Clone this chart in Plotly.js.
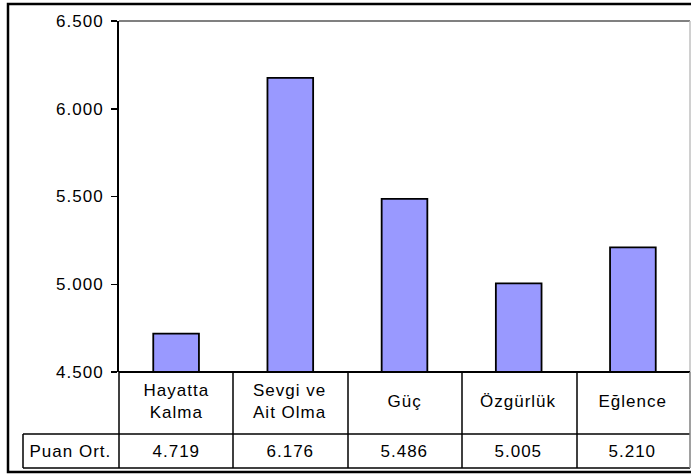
<!DOCTYPE html>
<html>
<head>
<meta charset="utf-8">
<script src="https://cdn.plot.ly/plotly-3.0.1.min.js"></script>
<style>
html,body{margin:0;padding:0;background:#fff;}
#chart{width:691px;height:474px;}
#chart svg text{letter-spacing:1px;}
</style>
</head>
<body>
<div id="chart"></div>
<script>
var categories = ['Hayatta<br>Kalma', 'Sevgi ve<br>Ait Olma', 'Güç', 'Özgürlük', 'Eğlence'];
var categoryKeys = ['Hayatta Kalma', 'Sevgi ve Ait Olma', 'Güç', 'Özgürlük', 'Eğlence'];
var values = [4719, 6176, 5486, 5005, 5210];
var seriesName = 'Puan Ort.';
var tickValues = [4500, 5000, 5500, 6000, 6500];
var tickLabels = ['4.500', '5.000', '5.500', '6.000', '6.500'];

function fmt(v) {
  var s = String(Math.round(v));
  return s.replace(/\B(?=(\d{3})+(?!\d))/g, '.');
}

// pixel -> paper helpers (plot area: x 119..690, y 21..372)
var L = 119, R = 690, T = 21, B = 372;
function px(x) { return (x - L) / (R - L); }
function py(y) { return (B - y) / (B - T); }

var shapes = [];
function line(x0, y0, x1, y1, color, w) {
  shapes.push({type: 'line', xref: 'paper', yref: 'paper', x0: px(x0), y0: py(y0), x1: px(x1), y1: py(y1),
    line: {color: color, width: w}});
}
// plot area border (top gray, right light gray)
line(L, T, R, T, '#808080', 2);
line(R, T, R, B, '#c0c0c0', 1.5);
// table
var colEdges = [119, 233, 348, 462, 577];
line(L, B, R, B, '#000', 2);
line(23, 434, R, 434, '#000', 1.5);
line(23, 468, R, 468, '#000', 1.5);
line(23, 434, 23, 468, '#000', 1.5);
for (var i = 0; i < colEdges.length; i++) line(colEdges[i], B, colEdges[i], 468, '#000', 1.5);
line(R, B, R, 468, '#808080', 1.5);
// outer border
shapes.push({type: 'rect', xref: 'paper', yref: 'paper', x0: px(8), y0: py(472), x1: px(705), y1: py(4),
  line: {color: '#000', width: 2.5}});

var annotations = [];
var font = {family: 'Liberation Sans, Arial, sans-serif', size: 17, color: '#000'};
for (var j = 0; j < categories.length; j++) {
  annotations.push({xref: 'x', yref: 'paper', x: categoryKeys[j], y: py(401), text: categories[j],
    showarrow: false, font: font, xanchor: 'center', yanchor: 'middle'});
  annotations.push({xref: 'x', yref: 'paper', x: categoryKeys[j], y: py(451), text: fmt(values[j]),
    showarrow: false, font: font, xanchor: 'center', yanchor: 'middle'});
}
annotations.push({xref: 'paper', yref: 'paper', x: px(70), y: py(451), text: seriesName,
  showarrow: false, font: font, xanchor: 'center', yanchor: 'middle'});

var data = [{
  type: 'bar',
  x: categoryKeys,
  y: values,
  base: 0,
  marker: {color: '#9999FF', line: {color: '#000', width: 1.8}},
  hoverinfo: 'none'
}];

var layout = {
  width: 691, height: 474,
  margin: {l: L, r: 691 - R, t: T, b: 474 - B, pad: 0},
  paper_bgcolor: '#fff', plot_bgcolor: '#fff',
  showlegend: false,
  bargap: 0.6,
  xaxis: {type: 'category', range: [-0.5, 4.5], showticklabels: false, ticks: '', showline: false,
    showgrid: false, zeroline: false, fixedrange: true},
  yaxis: {range: [4500, 6500], tickvals: tickValues, ticktext: tickLabels, ticks: 'outside',
    ticklen: 6, tickwidth: 1.5, tickcolor: '#000', showline: true, linecolor: '#000', linewidth: 2,
    showgrid: false, zeroline: false, tickfont: font, ticklabelstandoff: 4, fixedrange: true},
  shapes: shapes,
  annotations: annotations
};

Plotly.newPlot('chart', data, layout, {displayModeBar: false, staticPlot: true});
</script>
</body>
</html>
